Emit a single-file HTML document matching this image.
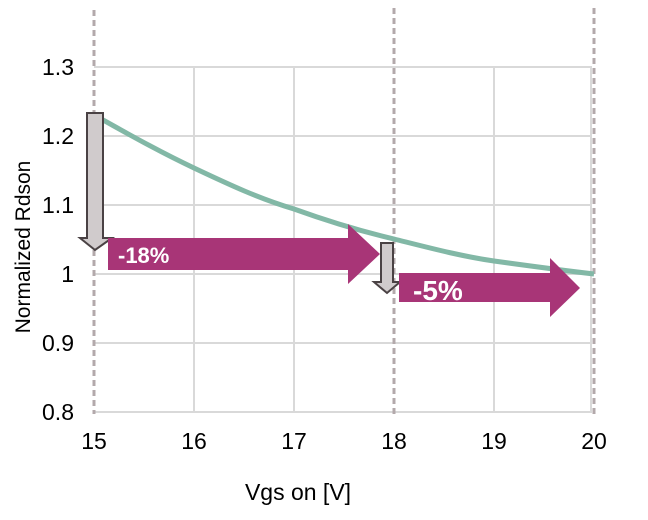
<!DOCTYPE html>
<html><head><style>body{margin:0;background:#fff}svg{display:block}</style></head><body>
<svg width="648" height="520" xmlns="http://www.w3.org/2000/svg" font-family="Liberation Sans, Arial, sans-serif">
<g stroke="#d9d9d9" stroke-width="2">
<line x1="94" y1="67" x2="592" y2="67"/><line x1="94" y1="136" x2="592" y2="136"/><line x1="94" y1="205" x2="592" y2="205"/><line x1="94" y1="274" x2="592" y2="274"/><line x1="94" y1="343" x2="592" y2="343"/><line x1="94" y1="412" x2="592" y2="412"/>
<line x1="194" y1="67" x2="194" y2="412"/><line x1="294" y1="67" x2="294" y2="412"/><line x1="494" y1="67" x2="494" y2="412"/><line x1="591" y1="67" x2="591" y2="412"/>
</g>
<g stroke="#b3a9ab" stroke-width="3" stroke-dasharray="6,4">
<line x1="94" y1="10" x2="94" y2="414"/><line x1="394" y1="8" x2="394" y2="414"/><line x1="594" y1="8" x2="594" y2="414"/>
</g>
<path d="M94,115 C130,135 160,152 194,168 C230,185 260,199 294,209 C330,222 360,231 394,239 C430,248 460,256 494,261 C530,266 560,270 594,274" fill="none" stroke="#82b8a6" stroke-width="5"/>
<path d="M87,113 H103 V238 H112 L95,250 L80,238 H87 Z" fill="#d0cbcc" stroke="#4a4244" stroke-width="2"/>
<path d="M108,238 H348 V224 L380,254 L348,284 V270 H108 Z" fill="#a83577"/>
<text x="118" y="263" fill="#fff" font-size="22" font-weight="bold">-18%</text>
<path d="M381,243 H393 V282 H400 L387,293 L374,282 H381 Z" fill="#d0cbcc" stroke="#4a4244" stroke-width="2"/>
<path d="M399,273 H550 V258 L580,288 L550,317 V302 H399 Z" fill="#a83577"/>
<text x="413" y="300" fill="#fff" font-size="28" font-weight="bold">-5%</text>
<g font-size="23" fill="#000" text-anchor="end">
<text x="74" y="75">1.3</text><text x="74" y="144">1.2</text><text x="74" y="213">1.1</text><text x="74" y="282">1</text><text x="74" y="351">0.9</text><text x="74" y="420">0.8</text>
</g>
<g font-size="23" fill="#000" text-anchor="middle">
<text x="94" y="449">15</text><text x="194" y="449">16</text><text x="294" y="449">17</text><text x="394" y="449">18</text><text x="494" y="449">19</text><text x="594" y="449">20</text>
<text x="298" y="500">Vgs on [V]</text>
<text font-size="21" transform="translate(30,247) rotate(-90)">Normalized Rdson</text>
</g>
</svg>
</body></html>
